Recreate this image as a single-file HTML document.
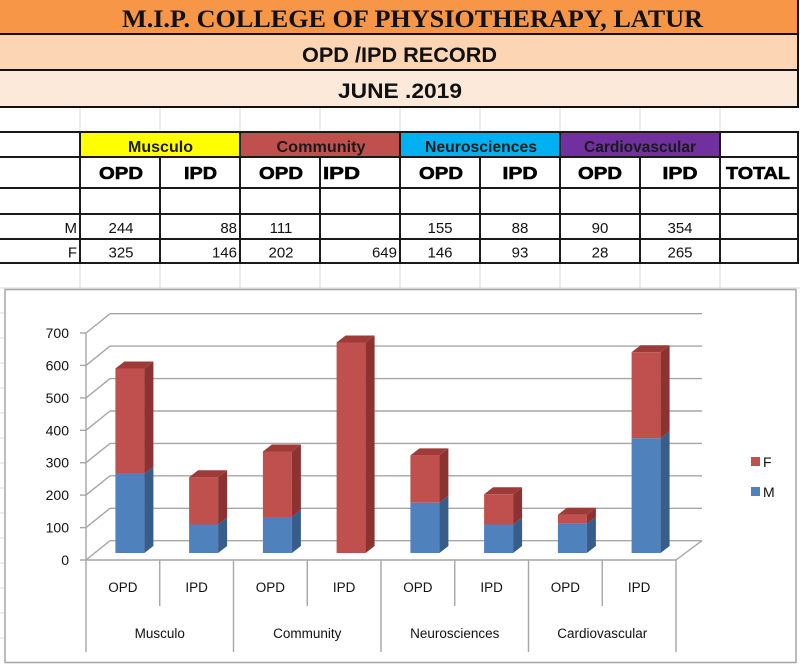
<!DOCTYPE html>
<html><head><meta charset="utf-8"><style>
html,body{margin:0;padding:0;background:#fff;}
svg{display:block;}
</style></head><body>
<svg width="800" height="664" viewBox="0 0 800 664" xmlns="http://www.w3.org/2000/svg">
<!-- spreadsheet faint grid -->
<g stroke="#dadada" stroke-width="1">
<line x1="80" y1="108" x2="80" y2="132"/><line x1="160" y1="108" x2="160" y2="132"/><line x1="240" y1="108" x2="240" y2="132"/><line x1="320" y1="108" x2="320" y2="132"/><line x1="400" y1="108" x2="400" y2="132"/><line x1="480" y1="108" x2="480" y2="132"/><line x1="560" y1="108" x2="560" y2="132"/><line x1="640" y1="108" x2="640" y2="132"/><line x1="720" y1="108" x2="720" y2="132"/>
<line x1="80" y1="264" x2="80" y2="289"/><line x1="160" y1="264" x2="160" y2="289"/><line x1="240" y1="264" x2="240" y2="289"/><line x1="320" y1="264" x2="320" y2="289"/><line x1="400" y1="264" x2="400" y2="289"/><line x1="480" y1="264" x2="480" y2="289"/><line x1="560" y1="264" x2="560" y2="289"/><line x1="640" y1="264" x2="640" y2="289"/><line x1="720" y1="264" x2="720" y2="289"/>
<line x1="0" y1="288" x2="800" y2="288"/>
<line x1="0" y1="313" x2="5" y2="313"/><line x1="0" y1="338" x2="5" y2="338"/><line x1="0" y1="363" x2="5" y2="363"/><line x1="0" y1="388" x2="5" y2="388"/><line x1="0" y1="413" x2="5" y2="413"/><line x1="0" y1="438" x2="5" y2="438"/><line x1="0" y1="463" x2="5" y2="463"/><line x1="0" y1="488" x2="5" y2="488"/><line x1="0" y1="513" x2="5" y2="513"/><line x1="0" y1="538" x2="5" y2="538"/><line x1="0" y1="563" x2="5" y2="563"/><line x1="0" y1="588" x2="5" y2="588"/><line x1="0" y1="613" x2="5" y2="613"/><line x1="0" y1="638" x2="5" y2="638"/>
</g>
<!-- title bands -->
<rect x="0" y="0" width="798" height="34" fill="#f79646"/>
<rect x="0" y="35" width="798" height="35" fill="#fcd5b4"/>
<rect x="0" y="71" width="798" height="36" fill="#fde9d9"/>
<g stroke="#111" stroke-width="2">
<line x1="0" y1="34" x2="799" y2="34"/>
<line x1="0" y1="70" x2="799" y2="70"/>
<line x1="0" y1="107" x2="799" y2="107"/>
<line x1="798" y1="0" x2="798" y2="108"/>
</g>
<text x="122" y="27" font-family="Liberation Serif, serif" font-weight="bold" font-size="25" textLength="581" lengthAdjust="spacingAndGlyphs" fill="#111">M.I.P. COLLEGE OF PHYSIOTHERAPY, LATUR</text>
<text x="302" y="62" font-family="Liberation Sans, sans-serif" font-weight="bold" font-size="21" textLength="195" lengthAdjust="spacingAndGlyphs" fill="#111">OPD /IPD RECORD</text>
<text x="338" y="98" font-family="Liberation Sans, sans-serif" font-weight="bold" font-size="21" textLength="124" lengthAdjust="spacingAndGlyphs" fill="#111">JUNE .2019</text>

<!-- table colored header -->
<rect x="80" y="132" width="160" height="25" fill="#ffff00"/>
<rect x="240" y="132" width="160" height="25" fill="#c0504d"/>
<rect x="400" y="132" width="160" height="25" fill="#00b0f0"/>
<rect x="560" y="132" width="160" height="25" fill="#7030a0"/>
<g stroke="#1a1a1a" stroke-width="2">
<line x1="0" y1="132" x2="799" y2="132"/>
<line x1="0" y1="157" x2="799" y2="157"/>
<line x1="0" y1="188" x2="799" y2="188"/>
<line x1="0" y1="214" x2="799" y2="214"/>
<line x1="0" y1="239" x2="799" y2="239"/>
<line x1="0" y1="263" x2="799" y2="263"/>
<line x1="80" y1="132" x2="80" y2="264"/>
<line x1="160" y1="157" x2="160" y2="264"/>
<line x1="240" y1="132" x2="240" y2="264"/>
<line x1="320" y1="157" x2="320" y2="264"/>
<line x1="400" y1="132" x2="400" y2="264"/>
<line x1="480" y1="157" x2="480" y2="264"/>
<line x1="560" y1="132" x2="560" y2="264"/>
<line x1="640" y1="157" x2="640" y2="264"/>
<line x1="720" y1="132" x2="720" y2="264"/>
<line x1="798" y1="132" x2="798" y2="264"/>
</g>
<g font-family="Liberation Sans, sans-serif" font-weight="bold" font-size="15.5" fill="#1a1a1a" text-anchor="middle">
<text x="160.5" y="152" textLength="65" lengthAdjust="spacingAndGlyphs">Musculo</text>
<text x="321" y="152" textLength="89" lengthAdjust="spacingAndGlyphs">Community</text>
<text x="481" y="152" textLength="112" lengthAdjust="spacingAndGlyphs">Neurosciences</text>
<text x="640" y="152" textLength="112" lengthAdjust="spacingAndGlyphs">Cardiovascular</text>
</g>
<g font-family="Liberation Sans, sans-serif" font-weight="bold" font-size="17.5" fill="#000" stroke="#000" stroke-width="0.6" text-anchor="middle">
<text x="121" y="179" textLength="44" lengthAdjust="spacingAndGlyphs">OPD</text>
<text x="200.5" y="179" textLength="33" lengthAdjust="spacingAndGlyphs">IPD</text>
<text x="281" y="179" textLength="44" lengthAdjust="spacingAndGlyphs">OPD</text>
<text x="341.5" y="179" textLength="37" lengthAdjust="spacingAndGlyphs">IPD</text>
<text x="441" y="179" textLength="44" lengthAdjust="spacingAndGlyphs">OPD</text>
<text x="520" y="179" textLength="35" lengthAdjust="spacingAndGlyphs">IPD</text>
<text x="600" y="179" textLength="44" lengthAdjust="spacingAndGlyphs">OPD</text>
<text x="680" y="179" textLength="35" lengthAdjust="spacingAndGlyphs">IPD</text>
<text x="758" y="179" textLength="64" lengthAdjust="spacingAndGlyphs">TOTAL</text>
</g>
<g font-family="Liberation Sans, sans-serif" font-size="15" fill="#111">
<g text-anchor="end">
<text x="77" y="233">M</text><text x="77" y="257.5">F</text>
<text x="237" y="233">88</text><text x="237" y="257.5">146</text>
<text x="397" y="257.5">649</text>
</g>
<g text-anchor="middle">
<text x="121" y="233">244</text><text x="121" y="257.5">325</text>
<text x="281" y="233">111</text><text x="281" y="257.5">202</text>
<text x="440" y="233">155</text><text x="440" y="257.5">146</text>
<text x="520" y="233">88</text><text x="520" y="257.5">93</text>
<text x="600" y="233">90</text><text x="600" y="257.5">28</text>
<text x="680" y="233">354</text><text x="680" y="257.5">265</text>
</g>
</g>

<!-- chart frame -->
<rect x="5" y="289.5" width="791" height="373" fill="#fff" stroke="#a6a6a6" stroke-width="1.5"/>

<!-- walls / gridlines -->
<g stroke="#a6a6a6" stroke-width="1.4" fill="none">
<line x1="110" y1="540.7" x2="702" y2="540.7"/>
<line x1="110" y1="508.3" x2="702" y2="508.3"/>
<line x1="110" y1="475.8" x2="702" y2="475.8"/>
<line x1="110" y1="443.4" x2="702" y2="443.4"/>
<line x1="110" y1="411.0" x2="702" y2="411.0"/>
<line x1="110" y1="378.6" x2="702" y2="378.6"/>
<line x1="110" y1="346.1" x2="702" y2="346.1"/>
<line x1="110" y1="313.7" x2="702" y2="313.7"/>
<line x1="86" y1="560" x2="110" y2="540.7"/>
<line x1="86" y1="527.6" x2="110" y2="508.3"/>
<line x1="86" y1="495.1" x2="110" y2="475.8"/>
<line x1="86" y1="462.7" x2="110" y2="443.4"/>
<line x1="86" y1="430.3" x2="110" y2="411.0"/>
<line x1="86" y1="397.9" x2="110" y2="378.6"/>
<line x1="86" y1="365.4" x2="110" y2="346.1"/>
<line x1="86" y1="333.0" x2="110" y2="313.7"/>
<line x1="676" y1="560" x2="702" y2="540.7"/>
<line x1="86" y1="560" x2="676" y2="560"/>
<line x1="86" y1="333" x2="86" y2="560"/>
<line x1="80" y1="560" x2="86" y2="560"/>
<line x1="80" y1="527.6" x2="86" y2="527.6"/>
<line x1="80" y1="495.1" x2="86" y2="495.1"/>
<line x1="80" y1="462.7" x2="86" y2="462.7"/>
<line x1="80" y1="430.3" x2="86" y2="430.3"/>
<line x1="80" y1="397.9" x2="86" y2="397.9"/>
<line x1="80" y1="365.4" x2="86" y2="365.4"/>
<line x1="80" y1="333.0" x2="86" y2="333.0"/>
<line x1="86" y1="560" x2="86" y2="652"/>
<line x1="159.75" y1="560" x2="159.75" y2="606"/>
<line x1="233.5" y1="560" x2="233.5" y2="652"/>
<line x1="307.25" y1="560" x2="307.25" y2="606"/>
<line x1="381" y1="560" x2="381" y2="652"/>
<line x1="454.75" y1="560" x2="454.75" y2="606"/>
<line x1="528.5" y1="560" x2="528.5" y2="652"/>
<line x1="602.25" y1="560" x2="602.25" y2="606"/>
<line x1="676" y1="560" x2="676" y2="652"/>
</g>

<!-- bars -->
<g>
<!-- i0 -->
<rect x="115.4" y="473.9" width="29" height="79.1" fill="#4f81bd"/>
<polygon points="144.4,553 153.4,546 153.4,466.9 144.4,473.9" fill="#385d8a"/>
<rect x="115.4" y="368.5" width="29" height="105.4" fill="#c0504d"/>
<polygon points="144.4,473.9 153.4,466.9 153.4,361.5 144.4,368.5" fill="#8c3331"/>
<polygon points="115.4,368.5 124.4,361.5 153.4,361.5 144.4,368.5" fill="#9e3b38"/>
<!-- i1 -->
<rect x="189.1" y="524.5" width="29" height="28.5" fill="#4f81bd"/>
<polygon points="218.1,553 227.1,546 227.1,517.5 218.1,524.5" fill="#385d8a"/>
<rect x="189.1" y="477.2" width="29" height="47.3" fill="#c0504d"/>
<polygon points="218.1,524.5 227.1,517.5 227.1,470.2 218.1,477.2" fill="#8c3331"/>
<polygon points="189.1,477.2 198.1,470.2 227.1,470.2 218.1,477.2" fill="#9e3b38"/>
<!-- i2 -->
<rect x="262.9" y="517" width="29" height="36" fill="#4f81bd"/>
<polygon points="291.9,553 300.9,546 300.9,510 291.9,517" fill="#385d8a"/>
<rect x="262.9" y="451.5" width="29" height="65.5" fill="#c0504d"/>
<polygon points="291.9,517 300.9,510 300.9,444.5 291.9,451.5" fill="#8c3331"/>
<polygon points="262.9,451.5 271.9,444.5 300.9,444.5 291.9,451.5" fill="#9e3b38"/>
<!-- i3 -->
<rect x="336.6" y="342.5" width="29" height="210.5" fill="#c0504d"/>
<polygon points="365.6,553 374.6,546 374.6,335.5 365.6,342.5" fill="#8c3331"/>
<polygon points="336.6,342.5 345.6,335.5 374.6,335.5 365.6,342.5" fill="#9e3b38"/>
<!-- i4 -->
<rect x="410.4" y="502.7" width="29" height="50.3" fill="#4f81bd"/>
<polygon points="439.4,553 448.4,546 448.4,495.7 439.4,502.7" fill="#385d8a"/>
<rect x="410.4" y="455.4" width="29" height="47.3" fill="#c0504d"/>
<polygon points="439.4,502.7 448.4,495.7 448.4,448.4 439.4,455.4" fill="#8c3331"/>
<polygon points="410.4,455.4 419.4,448.4 448.4,448.4 439.4,455.4" fill="#9e3b38"/>
<!-- i5 -->
<rect x="484.1" y="524.5" width="29" height="28.5" fill="#4f81bd"/>
<polygon points="513.1,553 522.1,546 522.1,517.5 513.1,524.5" fill="#385d8a"/>
<rect x="484.1" y="494.3" width="29" height="30.2" fill="#c0504d"/>
<polygon points="513.1,524.5 522.1,517.5 522.1,487.3 513.1,494.3" fill="#8c3331"/>
<polygon points="484.1,494.3 493.1,487.3 522.1,487.3 513.1,494.3" fill="#9e3b38"/>
<!-- i6 -->
<rect x="557.9" y="523.8" width="29" height="29.2" fill="#4f81bd"/>
<polygon points="586.9,553 595.9,546 595.9,516.8 586.9,523.8" fill="#385d8a"/>
<rect x="557.9" y="514.7" width="29" height="9.1" fill="#c0504d"/>
<polygon points="586.9,523.8 595.9,516.8 595.9,507.7 586.9,514.7" fill="#8c3331"/>
<polygon points="557.9,514.7 566.9,507.7 595.9,507.7 586.9,514.7" fill="#9e3b38"/>
<!-- i7 -->
<rect x="631.6" y="438.2" width="29" height="114.8" fill="#4f81bd"/>
<polygon points="660.6,553 669.6,546 669.6,431.2 660.6,438.2" fill="#385d8a"/>
<rect x="631.6" y="352.3" width="29" height="85.9" fill="#c0504d"/>
<polygon points="660.6,438.2 669.6,431.2 669.6,345.3 660.6,352.3" fill="#8c3331"/>
<polygon points="631.6,352.3 640.6,345.3 669.6,345.3 660.6,352.3" fill="#9e3b38"/>
</g>

<!-- axis labels -->
<g font-family="Liberation Sans, sans-serif" font-size="14" fill="#111" text-anchor="end">
<text x="69" y="565">0</text>
<text x="69" y="532.6">100</text>
<text x="69" y="500.1">200</text>
<text x="69" y="467.7">300</text>
<text x="69" y="435.3">400</text>
<text x="69" y="402.9">500</text>
<text x="69" y="370.4">600</text>
<text x="69" y="338">700</text>
</g>
<g font-family="Liberation Sans, sans-serif" font-size="13.5" fill="#111" text-anchor="middle">
<text x="122.9" y="592">OPD</text>
<text x="196.6" y="592">IPD</text>
<text x="270.4" y="592">OPD</text>
<text x="344.1" y="592">IPD</text>
<text x="417.9" y="592">OPD</text>
<text x="491.6" y="592">IPD</text>
<text x="565.4" y="592">OPD</text>
<text x="639.1" y="592">IPD</text>
<text x="159.75" y="638">Musculo</text>
<text x="307.25" y="638">Community</text>
<text x="454.75" y="638">Neurosciences</text>
<text x="602.25" y="638">Cardiovascular</text>
</g>

<!-- legend -->
<rect x="751" y="457" width="9" height="9" fill="#c0504d"/>
<rect x="751" y="487" width="9" height="9" fill="#4f81bd"/>
<g font-family="Liberation Sans, sans-serif" font-size="14" fill="#111">
<text x="763" y="467">F</text>
<text x="763" y="497">M</text>
</g>
</svg>
</body></html>
